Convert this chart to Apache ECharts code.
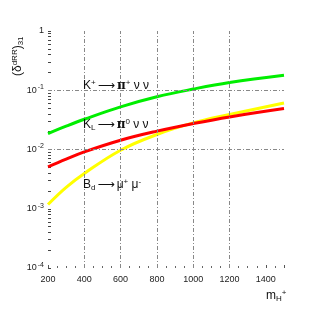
<!DOCTYPE html>
<html><head><meta charset="utf-8">
<script src="https://cdn.jsdelivr.net/npm/echarts@6/dist/echarts.min.js"></script>
<style>html,body{margin:0;padding:0;background:#fff}#c{width:316px;height:316px}</style>
</head><body><div id="c"></div>
<script>
const mH = [200, 300, 400, 600, 800, 1000, 1200, 1500];
const kPlus = [0.0186, 0.0248, 0.0324, 0.0525, 0.0776, 0.1047, 0.135, 0.179];
const kL = [0.00509, 0.00687, 0.00912, 0.01436, 0.0204, 0.0274, 0.0355, 0.0491];
const bd = [0.00118, 0.00230, 0.00394, 0.00973, 0.0179, 0.0281, 0.0389, 0.0611];
const xGrid = [400, 600, 800, 1000, 1200];
const yGrid = [0.1, 0.01, 0.001];
const yMinor = [];
for (let d = -4; d <= -1; d++) for (let k = 1; k <= 9; k++) yMinor.push(k * Math.pow(10, d));
yMinor.push(1);

const font = 'Liberation Sans, Arial, sans-serif';
const chart = echarts.init(document.getElementById('c'), null, {renderer: 'canvas'});
const pair = a => mH.map((x, i) => [x, a[i]]);
const curve = (name, arr, color) => ({
  name, type: 'line', data: pair(arr), smooth: 0.4, symbol: 'none', z: 3,
  lineStyle: {color, width: 3}, silent: true
});
const gridStyle = {type: [4, 2, 1, 2], color: '#888', width: 1};
const richT = {
  sup: {fontSize: 8, verticalAlign: 'top', padding: [0, 0, 6, 0], fontFamily: font},
  sub: {fontSize: 8, verticalAlign: 'bottom', padding: [6, 0, 0, 0], fontFamily: font},
  ar: {fontSize: 12, fontFamily: 'DejaVu Sans', padding: [0, 2, 0, 2]},
  pi: {fontSize: 12, fontFamily: 'DejaVu Serif', fontWeight: 'bold'}
};
chart.setOption({
  animation: false,
  grid: {left: 48, right: 32, top: 31, bottom: 48},
  xAxis: {
    type: 'value', min: 200, max: 1500, interval: 200, position: 'bottom',
    axisLine: {show: false, onZero: false},
    axisTick: {show: true, inside: true, length: 3, lineStyle: {color: '#555'}},
    minorTick: {show: true, splitNumber: 4, length: 2, lineStyle: {color: '#666'}},
    splitLine: {show: false},
    axisLabel: {color: '#222', fontSize: 9, fontFamily: font, margin: 7, formatter: v => String(v)}
  },
  yAxis: [{
    type: 'log', logBase: 10, min: 1e-4, max: 1,
    axisLine: {show: false},
    axisTick: {show: false},
    splitLine: {show: false},
    axisLabel: {
      color: '#222', fontSize: 9, fontFamily: font, margin: 4,
      formatter: v => {
        const e = Math.round(Math.log10(v));
        return e === 0 ? '1' : '10{sup|' + e + '}';
      },
      rich: {sup: {fontSize: 7, verticalAlign: 'top', padding: [0, 0, 6, 1], fontFamily: font, color: '#222'}}
    }
  }, {
    type: 'value', min: -4, max: 0, interval: 1, position: 'left', offset: 0,
    axisLine: {show: false, onZero: false},
    axisLabel: {show: false},
    splitLine: {show: false},
    axisTick: {show: true, inside: true, length: 3, customValues: yMinor.map(v => Math.log10(v)),
               lineStyle: {color: '#444', width: 1}}
  }],
  series: [
    {type: 'line', data: [], z: 1, silent: true,
     markLine: {silent: true, symbol: 'none', label: {show: false}, lineStyle: gridStyle,
       data: xGrid.map(v => ({xAxis: v})).concat(yGrid.map(v => ({yAxis: v})))}},
    curve('Bd', bd, '#ffff00'),
    curve('KL', kL, '#ff0000'),
    curve('K+', kPlus, '#00ee00')
  ],
  graphic: [
    {type: 'text', left: 83, top: 79, z: 10, style: {
      text: 'K{sup|+}{ar|⟶}{pi|π}{sup|+} ν ν', fill: '#111', font: '12px ' + font, rich: richT}},
    {type: 'text', left: 83, top: 118, z: 10, style: {
      text: 'K{sub|L}{ar|⟶}{pi|π}{sup|0} ν ν', fill: '#111', font: '12px ' + font, rich: richT}},
    {type: 'text', left: 83, top: 178, z: 10, style: {
      text: 'B{sub|d}{ar|⟶}μ{sup|+} μ{sup|-}', fill: '#111', font: '12px ' + font, rich: richT}},
    {type: 'text', x: 11, y: 76, rotation: Math.PI / 2, z: 10, style: {
      text: '(δ{sup|dRR}){sub|31}', fill: '#111', font: '12px ' + font, rich: richT}},
    {type: 'text', left: 266, top: 289, z: 10, style: {
      text: 'm{sub|H}{sup|+}', fill: '#111', font: '12px ' + font, rich: richT}}
  ]
});
</script></body></html>
